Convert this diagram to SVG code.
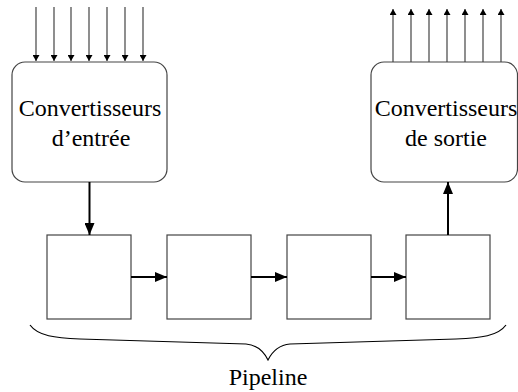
<svg xmlns="http://www.w3.org/2000/svg" width="518" height="392" viewBox="0 0 518 392">
<defs>
<style>
.box{fill:#fff;stroke:#444;stroke-width:1.2}
.thin{stroke:#444;stroke-width:1.2;fill:none}
.thick{stroke:#000;stroke-width:2;fill:none}
.t{font-family:"Liberation Serif","Times New Roman",serif;font-size:24px;fill:#000;text-anchor:middle}
.brace{stroke:#000;stroke-width:1.2;fill:none}
</style>
<marker id="sm" viewBox="0 0 6 7" refX="6" refY="3.5" markerWidth="6" markerHeight="7" markerUnits="userSpaceOnUse" orient="auto">
<path d="M0,0 L6,3.5 L0,7 Z" fill="#000"/>
</marker>
<marker id="big" viewBox="0 0 12 10" refX="12" refY="5" markerWidth="12" markerHeight="10" markerUnits="userSpaceOnUse" orient="auto">
<path d="M0,0 L12,5 L0,10 Z" fill="#000"/>
</marker>
</defs>
<g id="input-converters">
<rect class="box" x="12" y="62" width="155" height="120" rx="13" ry="13"/>
<text class="t" x="90" y="116">Convertisseurs</text>
<text class="t" x="91" y="146">d’entrée</text>
</g>
<g id="output-converters">
<rect class="box" x="371" y="62" width="146.5" height="120" rx="13" ry="13"/>
<text class="t" x="446" y="116">Convertisseurs</text>
<text class="t" x="446" y="146">de sortie</text>
</g>
<g id="stage1"><rect class="box" x="47" y="235" width="84" height="84"/></g>
<g id="stage2"><rect class="box" x="167" y="235" width="84" height="84"/></g>
<g id="stage3"><rect class="box" x="287" y="235" width="84" height="84"/></g>
<g id="stage4"><rect class="box" x="406" y="235" width="84" height="84"/></g>
<g id="connectors">
<line class="thin" x1="36" y1="7" x2="36" y2="61" marker-end="url(#sm)"/>
<line class="thin" x1="54" y1="7" x2="54" y2="61" marker-end="url(#sm)"/>
<line class="thin" x1="71" y1="7" x2="71" y2="61" marker-end="url(#sm)"/>
<line class="thin" x1="89" y1="7" x2="89" y2="61" marker-end="url(#sm)"/>
<line class="thin" x1="107" y1="7" x2="107" y2="61" marker-end="url(#sm)"/>
<line class="thin" x1="125" y1="7" x2="125" y2="61" marker-end="url(#sm)"/>
<line class="thin" x1="143" y1="7" x2="143" y2="61" marker-end="url(#sm)"/>
<line class="thin" x1="393" y1="62" x2="393" y2="9" marker-end="url(#sm)"/>
<line class="thin" x1="411" y1="62" x2="411" y2="9" marker-end="url(#sm)"/>
<line class="thin" x1="429" y1="62" x2="429" y2="9" marker-end="url(#sm)"/>
<line class="thin" x1="447" y1="62" x2="447" y2="9" marker-end="url(#sm)"/>
<line class="thin" x1="465" y1="62" x2="465" y2="9" marker-end="url(#sm)"/>
<line class="thin" x1="483" y1="62" x2="483" y2="9" marker-end="url(#sm)"/>
<line class="thin" x1="501" y1="62" x2="501" y2="9" marker-end="url(#sm)"/>
<line class="thick" x1="89.5" y1="182" x2="89.5" y2="235" marker-end="url(#big)"/>
<line class="thick" x1="131" y1="277" x2="167" y2="277" marker-end="url(#big)"/>
<line class="thick" x1="251" y1="277" x2="287" y2="277" marker-end="url(#big)"/>
<line class="thick" x1="371" y1="277" x2="406" y2="277" marker-end="url(#big)"/>
<line class="thick" x1="448" y1="235" x2="448" y2="182" marker-end="url(#big)"/>
</g>
<g id="pipeline-brace">
<path class="brace" d="M30,325 C38,336 55,338 80,339 L246,344 C258,345 264,352 268,360 C272,352 278,345 290,344 L456,339 C481,338 498,336 506,325"/>
<text class="t" x="268" y="385">Pipeline</text>
</g>
</svg>
